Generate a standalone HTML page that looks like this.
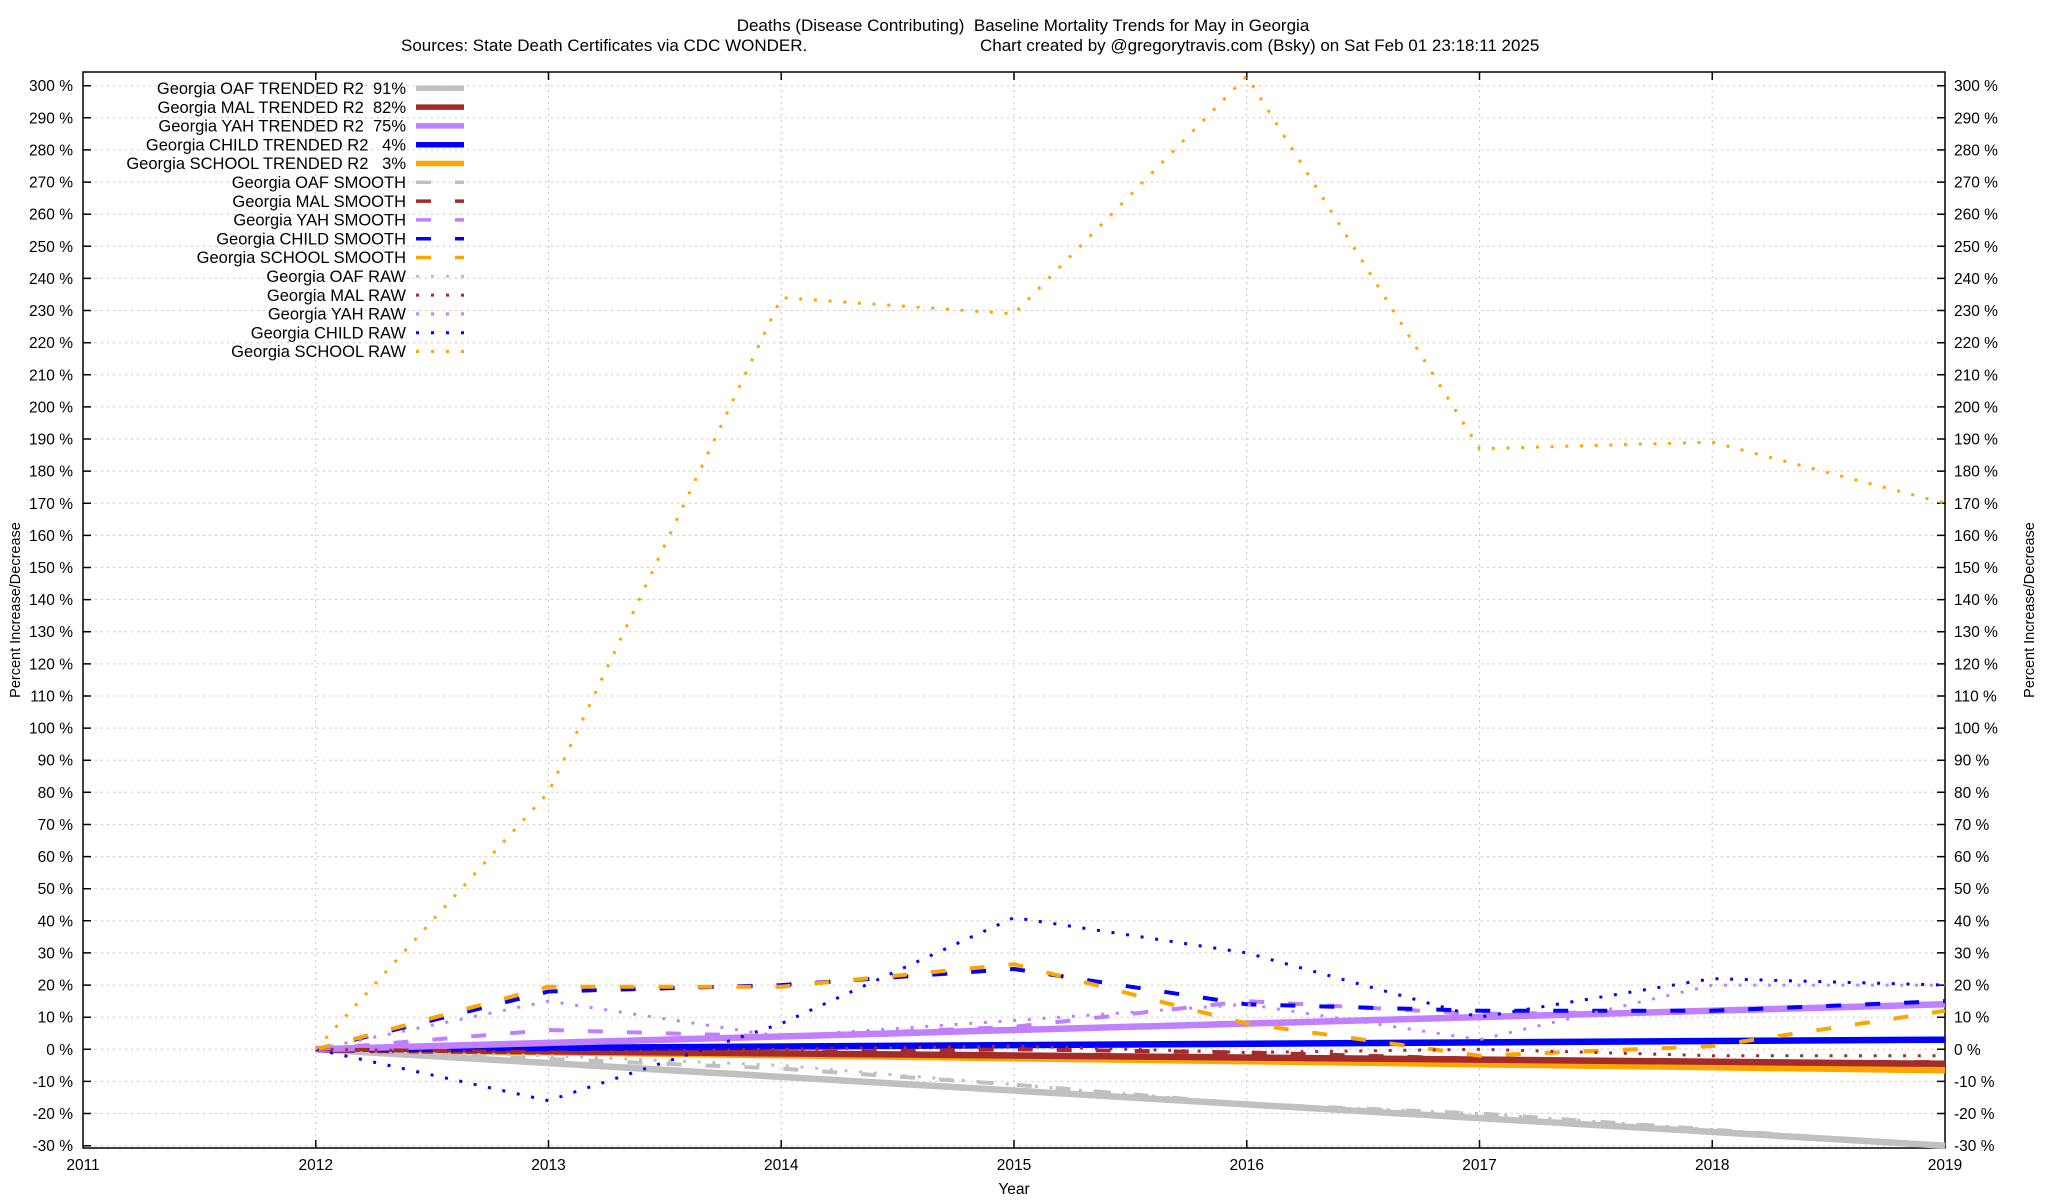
<!DOCTYPE html>
<html><head><meta charset="utf-8"><style>
html,body{margin:0;padding:0;background:#fff}
svg{display:block;font-family:"Liberation Sans",Arial,sans-serif}
</style></head><body>
<svg width="2048" height="1200" viewBox="0 0 2048 1200" xmlns="http://www.w3.org/2000/svg">
<rect width="2048" height="1200" fill="#fff"/>
<text x="1023" y="31" font-size="17" text-anchor="middle" xml:space="preserve">Deaths (Disease Contributing)  Baseline Mortality Trends for May in Georgia</text>
<text x="401" y="51" font-size="17">Sources: State Death Certificates via CDC WONDER.</text>
<text x="980" y="51" font-size="17">Chart created by @gregorytravis.com (Bsky) on Sat Feb 01 23:18:11 2025</text>
<g stroke="#c8c8c8" stroke-width="1" stroke-dasharray="2,4">
<path d="M83 85.7H1945M83 117.8H1945M83 149.9H1945M83 182.1H1945M83 214.2H1945M83 246.3H1945M83 278.4H1945M83 310.5H1945M83 342.7H1945M83 374.8H1945M83 406.9H1945M83 439H1945M83 471.1H1945M83 503.3H1945M83 535.4H1945M83 567.5H1945M83 599.6H1945M83 631.7H1945M83 663.9H1945M83 696H1945M83 728.1H1945M83 760.2H1945M83 792.3H1945M83 824.5H1945M83 856.6H1945M83 888.7H1945M83 920.8H1945M83 952.9H1945M83 985.1H1945M83 1017.2H1945M83 1049.3H1945M83 1081.4H1945M83 1113.5H1945M83 1145.7H1945"/>
<path d="M315.75 72V1148M548.5 72V1148M781.25 72V1148M1014 72V1148M1246.75 72V1148M1479.5 72V1148M1712.25 72V1148"/>
</g>
<g stroke="#000" stroke-width="1.5" fill="none">
<rect x="83" y="72" width="1862" height="1076"/>
<path d="M83 85.7h8M83 117.8h8M83 149.9h8M83 182.1h8M83 214.2h8M83 246.3h8M83 278.4h8M83 310.5h8M83 342.7h8M83 374.8h8M83 406.9h8M83 439h8M83 471.1h8M83 503.3h8M83 535.4h8M83 567.5h8M83 599.6h8M83 631.7h8M83 663.9h8M83 696h8M83 728.1h8M83 760.2h8M83 792.3h8M83 824.5h8M83 856.6h8M83 888.7h8M83 920.8h8M83 952.9h8M83 985.1h8M83 1017.2h8M83 1049.3h8M83 1081.4h8M83 1113.5h8M83 1145.7h8"/>
<path d="M1945 85.7h-8M1945 117.8h-8M1945 149.9h-8M1945 182.1h-8M1945 214.2h-8M1945 246.3h-8M1945 278.4h-8M1945 310.5h-8M1945 342.7h-8M1945 374.8h-8M1945 406.9h-8M1945 439h-8M1945 471.1h-8M1945 503.3h-8M1945 535.4h-8M1945 567.5h-8M1945 599.6h-8M1945 631.7h-8M1945 663.9h-8M1945 696h-8M1945 728.1h-8M1945 760.2h-8M1945 792.3h-8M1945 824.5h-8M1945 856.6h-8M1945 888.7h-8M1945 920.8h-8M1945 952.9h-8M1945 985.1h-8M1945 1017.2h-8M1945 1049.3h-8M1945 1081.4h-8M1945 1113.5h-8M1945 1145.7h-8"/>
<path d="M315.75 1148v-8M548.5 1148v-8M781.25 1148v-8M1014 1148v-8M1246.75 1148v-8M1479.5 1148v-8M1712.25 1148v-8M315.75 72v8M548.5 72v8M781.25 72v8M1014 72v8M1246.75 72v8M1479.5 72v8M1712.25 72v8"/>
</g>
<g font-size="15.5" text-anchor="end">
<text x="73" y="91.2">300 %</text><text x="73" y="123.3">290 %</text><text x="73" y="155.4">280 %</text><text x="73" y="187.6">270 %</text><text x="73" y="219.7">260 %</text><text x="73" y="251.8">250 %</text><text x="73" y="283.9">240 %</text><text x="73" y="316">230 %</text><text x="73" y="348.2">220 %</text><text x="73" y="380.3">210 %</text><text x="73" y="412.4">200 %</text><text x="73" y="444.5">190 %</text><text x="73" y="476.6">180 %</text><text x="73" y="508.8">170 %</text><text x="73" y="540.9">160 %</text><text x="73" y="573">150 %</text><text x="73" y="605.1">140 %</text><text x="73" y="637.2">130 %</text><text x="73" y="669.4">120 %</text><text x="73" y="701.5">110 %</text><text x="73" y="733.6">100 %</text><text x="73" y="765.7">90 %</text><text x="73" y="797.8">80 %</text><text x="73" y="830">70 %</text><text x="73" y="862.1">60 %</text><text x="73" y="894.2">50 %</text><text x="73" y="926.3">40 %</text><text x="73" y="958.4">30 %</text><text x="73" y="990.6">20 %</text><text x="73" y="1022.7">10 %</text><text x="73" y="1054.8">0 %</text><text x="73" y="1086.9">-10 %</text><text x="73" y="1119">-20 %</text><text x="73" y="1151.2">-30 %</text>
</g>
<g font-size="15.5">
<text x="1954" y="91.2">300 %</text><text x="1954" y="123.3">290 %</text><text x="1954" y="155.4">280 %</text><text x="1954" y="187.6">270 %</text><text x="1954" y="219.7">260 %</text><text x="1954" y="251.8">250 %</text><text x="1954" y="283.9">240 %</text><text x="1954" y="316">230 %</text><text x="1954" y="348.2">220 %</text><text x="1954" y="380.3">210 %</text><text x="1954" y="412.4">200 %</text><text x="1954" y="444.5">190 %</text><text x="1954" y="476.6">180 %</text><text x="1954" y="508.8">170 %</text><text x="1954" y="540.9">160 %</text><text x="1954" y="573">150 %</text><text x="1954" y="605.1">140 %</text><text x="1954" y="637.2">130 %</text><text x="1954" y="669.4">120 %</text><text x="1954" y="701.5">110 %</text><text x="1954" y="733.6">100 %</text><text x="1954" y="765.7">90 %</text><text x="1954" y="797.8">80 %</text><text x="1954" y="830">70 %</text><text x="1954" y="862.1">60 %</text><text x="1954" y="894.2">50 %</text><text x="1954" y="926.3">40 %</text><text x="1954" y="958.4">30 %</text><text x="1954" y="990.6">20 %</text><text x="1954" y="1022.7">10 %</text><text x="1954" y="1054.8">0 %</text><text x="1954" y="1086.9">-10 %</text><text x="1954" y="1119">-20 %</text><text x="1954" y="1151.2">-30 %</text>
</g>
<g font-size="15.5" text-anchor="middle">
<text x="83" y="1170">2011</text><text x="315.75" y="1170">2012</text><text x="548.5" y="1170">2013</text><text x="781.25" y="1170">2014</text><text x="1014" y="1170">2015</text><text x="1246.75" y="1170">2016</text><text x="1479.5" y="1170">2017</text><text x="1712.25" y="1170">2018</text><text x="1945" y="1170">2019</text>
<text x="1014" y="1194">Year</text>
<text transform="translate(20,610) rotate(-90)" font-size="14.5">Percent Increase/Decrease</text>
<text transform="translate(2034,610) rotate(-90)" font-size="14.5">Percent Increase/Decrease</text>
</g>
<g fill="none" stroke-linejoin="round">
<g stroke-width="6.5">
<path stroke="#c0c0c0" d="M315.75 1049.3L1945 1145.7"/>
<path stroke="#ffa500" d="M315.75 1049.3L1945 1070.2"/>
<path stroke="#a52a2a" d="M315.75 1049.3L1945 1063.8"/>
<path stroke="#0000ff" d="M315.75 1049.3L1945 1039.7"/>
<path stroke="#c080ff" d="M315.75 1049.3L1945 1004.3"/>
</g>
<g stroke-width="4" stroke-dasharray="15,24">
<path stroke="#c0c0c0" d="M315.75 1049.3L548.5 1058.9L781.25 1068.6L1014 1084.6L1246.75 1103.9L1479.5 1113.5L1712.25 1129.6L1945 1145.7"/>
<path stroke="#a52a2a" d="M315.75 1049.3L548.5 1052.5L781.25 1052.5L1014 1049.3L1246.75 1052.5L1479.5 1058.9L1712.25 1062.1L1945 1062.1"/>
<path stroke="#c080ff" d="M315.75 1049.3L548.5 1030L781.25 1036.5L1014 1026.8L1246.75 1001.1L1479.5 1014L1712.25 1010.8L1945 1004.3"/>
<path stroke="#0000ff" d="M315.75 1049.3L548.5 991.5L781.25 985.1L1014 969L1246.75 1004.3L1479.5 1010.8L1712.25 1010.8L1945 1001.1"/>
<path stroke="#ffa500" d="M315.75 1049.3L548.5 986.7L781.25 986.7L1014 964.2L1246.75 1023.6L1479.5 1055.7L1712.25 1046.1L1945 1010.8"/>
</g>
<g stroke-width="3" stroke-dasharray="3,11.7">
<path stroke="#c0c0c0" d="M315.75 1049.3L548.5 1055.7L781.25 1065.4L1014 1084.6L1246.75 1103.9L1479.5 1113.5L1712.25 1129.6L1945 1145.7"/>
<path stroke="#a52a2a" d="M315.75 1049.3L548.5 1052.5L781.25 1049.3L1014 1046.1L1246.75 1052.5L1479.5 1049.3L1712.25 1055.7L1945 1055.7"/>
<path stroke="#c080ff" d="M315.75 1049.3L548.5 1001.1L781.25 1036.5L1014 1020.4L1246.75 1004.3L1479.5 1039.7L1712.25 985.1L1945 985.1"/>
<path stroke="#0000ff" d="M315.75 1049.3L548.5 1100.7L781.25 1023.6L1014 917.6L1246.75 952.9L1479.5 1017.2L1712.25 978.6L1945 985.1"/>
<path stroke="#ffa500" d="M315.75 1049.3L548.5 792.3L781.25 297.7L1014 313.8L1246.75 76.1L1479.5 448.7L1712.25 442.2L1945 503.3"/>
</g>
</g>
<g font-size="16.5" text-anchor="end">
<text x="406" y="94" xml:space="preserve">Georgia OAF TRENDED R2  91%</text>
<text x="406" y="112.8" xml:space="preserve">Georgia MAL TRENDED R2  82%</text>
<text x="406" y="131.6" xml:space="preserve">Georgia YAH TRENDED R2  75%</text>
<text x="406" y="150.4" xml:space="preserve">Georgia CHILD TRENDED R2   4%</text>
<text x="406" y="169.2" xml:space="preserve">Georgia SCHOOL TRENDED R2   3%</text>
<text x="406" y="188">Georgia OAF SMOOTH</text>
<text x="406" y="206.8">Georgia MAL SMOOTH</text>
<text x="406" y="225.6">Georgia YAH SMOOTH</text>
<text x="406" y="244.4">Georgia CHILD SMOOTH</text>
<text x="406" y="263.2">Georgia SCHOOL SMOOTH</text>
<text x="406" y="282">Georgia OAF RAW</text>
<text x="406" y="300.8">Georgia MAL RAW</text>
<text x="406" y="319.6">Georgia YAH RAW</text>
<text x="406" y="338.4">Georgia CHILD RAW</text>
<text x="406" y="357.2">Georgia SCHOOL RAW</text>
</g>
<g fill="none">
<g stroke-width="5.5">
<path stroke="#c0c0c0" d="M416 88.3H464"/>
<path stroke="#a52a2a" d="M416 107.1H464"/>
<path stroke="#c080ff" d="M416 125.9H464"/>
<path stroke="#0000ff" d="M416 144.7H464"/>
<path stroke="#ffa500" d="M416 163.5H464"/>
</g>
<g stroke-width="3.5" stroke-dasharray="15,24">
<path stroke="#c0c0c0" d="M416 182.3H464"/>
<path stroke="#a52a2a" d="M416 201.1H464"/>
<path stroke="#c080ff" d="M416 219.9H464"/>
<path stroke="#0000ff" d="M416 238.7H464"/>
<path stroke="#ffa500" d="M416 257.5H464"/>
</g>
<g stroke-width="3" stroke-dasharray="3,12">
<path stroke="#c0c0c0" d="M416 276.3H464"/>
<path stroke="#a52a2a" d="M416 295.1H464"/>
<path stroke="#c080ff" d="M416 313.9H464"/>
<path stroke="#0000ff" d="M416 332.7H464"/>
<path stroke="#ffa500" d="M416 351.5H464"/>
</g>
</g>
</svg>
</body></html>
